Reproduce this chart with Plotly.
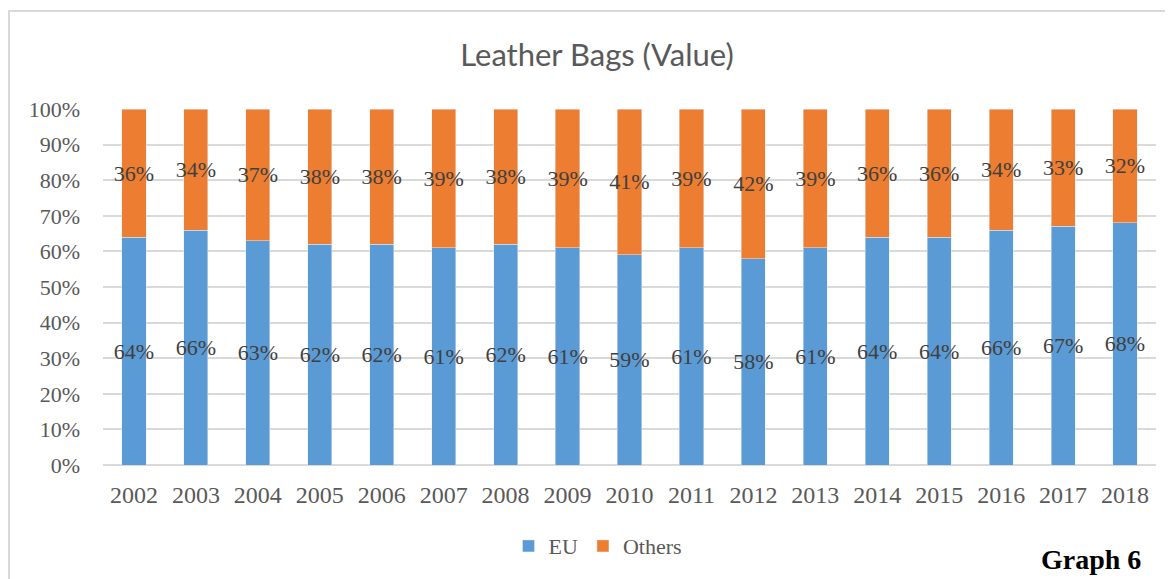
import plotly.graph_objects as go

years = [str(y) for y in range(2002, 2019)]
eu = [64, 66, 63, 62, 62, 61, 62, 61, 59, 61, 58, 61, 64, 64, 66, 67, 68]
others = [36, 34, 37, 38, 38, 39, 38, 39, 41, 39, 42, 39, 36, 36, 34, 33, 32]
tick_vals = [0, 10, 20, 30, 40, 50, 60, 70, 80, 90, 100]
tick_text = [f"{v}%" for v in tick_vals]

SERIF = "Liberation Serif, Times New Roman, serif"
TXT = "#404040"

fig = go.Figure()
fig.add_trace(go.Bar(
    x=years, y=eu, name="EU", marker_color="#5b9bd5",
    text=[f"{v}%" for v in eu], textposition="inside", insidetextanchor="middle",
    textangle=0, constraintext="none",
    insidetextfont=dict(family=SERIF, size=22, color=TXT),
    hoverinfo="skip",
))
fig.add_trace(go.Bar(
    x=years, y=others, name="Others", marker_color="#ed7d31",
    text=[f"{v}%" for v in others], textposition="inside", insidetextanchor="middle",
    textangle=0, constraintext="none",
    insidetextfont=dict(family=SERIF, size=22, color=TXT),
    hoverinfo="skip",
))

# page body has an 8px margin; the plot area is sized 1053x360 px
fig.update_layout(
    barmode="stack", bargap=0.61,
    width=1165, height=571,
    margin=dict(l=95, r=17, t=101, b=110),
    paper_bgcolor="white", plot_bgcolor="white",
    title=dict(text="Leather Bags (Value)", x=(597 - 8) / 1165, xanchor="center",
               y=1 - (55 - 8) / 571, yanchor="middle",
               font=dict(family="Lato, Open Sans, sans-serif", size=31, color="#595959")),
    font=dict(family=SERIF, color="#595959"),
    showlegend=True,
    legend=dict(orientation="h", x=(598 - 103) / 1053, xanchor="center",
                y=-(551 - 469) / 360, yanchor="middle",
                font=dict(family=SERIF, size=22, color="#595959"), traceorder="normal",
                itemwidth=30),
    xaxis=dict(tickfont=dict(family=SERIF, size=24, color="#595959"), showgrid=False,
               showline=False, ticks="", ticklabelstandoff=13),
    yaxis=dict(range=[0, 100], tickvals=tick_vals, ticktext=tick_text,
               tickfont=dict(family=SERIF, size=22, color="#595959"),
               showgrid=True, gridcolor="#d9d9d9", gridwidth=1.5,
               zeroline=True, zerolinecolor="#d9d9d9", zerolinewidth=1.5,
               ticks="", ticklabelstandoff=22),
    shapes=[dict(type="rect", xref="paper", yref="paper",
                 x0=(9 - 103) / 1053, x1=1.3, y0=-0.6, y1=1 + (109 - 10) / 360,
                 line=dict(color="#d9d9d9", width=2), layer="below")],
    annotations=[dict(text="<b>Graph 6</b>", xref="paper", yref="paper",
                      x=(1091 - 103) / 1053, y=-(565 - 469) / 360, xanchor="center", yanchor="middle",
                      showarrow=False, font=dict(family=SERIF, size=28, color="black"))],
)

fig.write_html("out.html")
